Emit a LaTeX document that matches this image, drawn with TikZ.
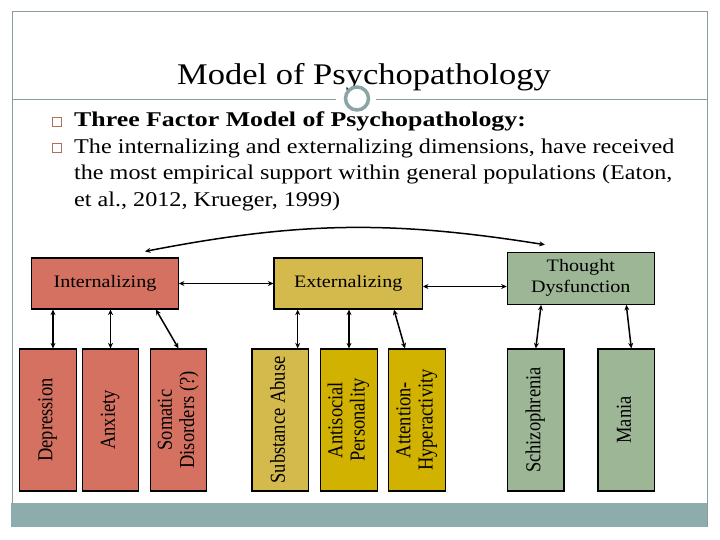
\documentclass[tikz,border=0pt]{standalone}
\usepackage{fontspec}
\setmainfont{Liberation Serif}[FakeStretch=1.15]
\newfontfamily\rotfont{Liberation Serif}
\usetikzlibrary{arrows.meta,calc}
\definecolor{intred}{RGB}{213,113,96}
\definecolor{extyel}{RGB}{212,186,76}
\definecolor{extdark}{RGB}{209,178,0}
\definecolor{thgreen}{RGB}{157,182,150}
\definecolor{tealbar}{RGB}{141,173,173}
\definecolor{framegray}{RGB}{140,156,156}
\definecolor{ringgray}{RGB}{138,165,165}
\definecolor{bulletc}{RGB}{184,110,86}
\newcommand{\rlab}[1]{\rotatebox{90}{\scalebox{1}[1.15]{\rotfont\fontsize{18.5}{19.5}\selectfont\begin{tabular}{@{}c@{}}#1\end{tabular}}}}
\tikzset{
  catbox/.style={draw=black, line width=1.2pt, inner sep=0pt, minimum height=51pt,
    font=\fontsize{17.5}{21}\selectfont, align=center},
  childbox/.style={draw=black, line width=1.2pt, inner sep=0pt, minimum width=56.5pt,
    minimum height=142pt},
  arr/.style={{Stealth[length=5.5pt,width=5pt]}-{Stealth[length=5.5pt,width=5pt]}, line width=1.5pt},
  bul/.style={draw=bulletc, line width=1pt, minimum width=8.5pt, minimum height=9pt, inner sep=0pt},
  txt/.style={anchor=base west, inner sep=0pt, font=\fontsize{21}{26}\selectfont}
}
\begin{document}
\begin{tikzpicture}[x=1pt,y=-1pt]
\useasboundingbox (0,0) rectangle (720,540);
% frame
\fill[tealbar] (11,503) rectangle (707,527);
\draw[framegray, line width=1pt] (12,503) -- (12,12) -- (707,12) -- (707,527);
% title
\node[anchor=base, inner sep=0pt, font=\fontsize{30}{36}\selectfont] (title) at (364,85) {Model of Psychopathology};
\draw[framegray, line width=1pt] (12,100) -- (336,100);
\draw[framegray, line width=1pt] (376,100) -- (707,100);
\draw[ringgray, line width=3.5pt] (357,98.5) circle (11.5);
% bullets
\node[bul] (b1) at (57,122) {};
\node[bul] (b2) at (57,148) {};
\node[txt] (t1) at (74,127) {\scalebox{1.07}[1]{\bfseries Three Factor Model of Psychopathology:}};
\node[txt] (t2) at (74,153.5) {The internalizing and externalizing dimensions, have received};
\node[txt] (t3) at (74,180) {the most empirical support within general populations (Eaton,};
\node[txt] (t4) at (74,206.5) {et al., 2012, Krueger, 1999)};
% category boxes
\node[catbox, fill=intred, minimum width=146.6pt] (int) at (105,283.5) {Internalizing};
\node[catbox, fill=extyel, minimum width=148.3pt] (ext) at (348.2,283.5) {Externalizing};
\node[catbox, fill=thgreen, minimum width=147pt, minimum height=52pt] (tho) at (580.8,278.3) {Thought\\Dysfunction};
% child boxes
\node[childbox, fill=intred] (dep) at (48,420) {\rlab{Depression}};
\node[childbox, fill=intred] (anx) at (110.5,420) {\rlab{Anxiety}};
\node[childbox, fill=intred] (som) at (178.5,420) {\rlab{Somatic\\Disorders (?)}};
\node[childbox, fill=extyel] (sub) at (280.3,420) {\rlab{Substance Abuse}};
\node[childbox, fill=extdark] (ant) at (349,420) {\rlab{Antisocial\\Personality}};
\node[childbox, fill=extdark] (att) at (417,420) {\rlab{Attention-\\Hyperactivity}};
\node[childbox, fill=thgreen] (sch) at (535.8,420) {\rlab{Schizophrenia}};
\node[childbox, fill=thgreen] (man) at (626.3,420) {\rlab{Mania}};
% connectors
\draw[arr] (int.east) -- (ext.west);
\draw[arr] ([yshift=-3pt]ext.east) -- ([yshift=-3pt]ext.east -| tho.west);
\draw[arr] ([shift={(40pt,6pt)}]int.north) to[bend left=10] ([shift={(-36pt,7pt)}]tho.north);
\draw[arr] ([xshift=5pt]dep.north |- int.south) -- ([xshift=5pt]dep.north);
\draw[arr] (anx.north |- int.south) -- (anx.north);
\draw[arr] ([xshift=-23pt]int.south east) -- (som.north);
\draw[arr] ([xshift=17.4pt]sub.north |- ext.south) -- ([xshift=17.4pt]sub.north);
\draw[arr] (ant.north |- ext.south) -- (ant.north);
\draw[arr] ([xshift=-29pt]ext.south east) -- ([xshift=-12pt]att.north);
\draw[arr] ([xshift=34.4pt]tho.south west) -- (sch.north);
\draw[arr] ([xshift=-28.6pt]tho.south east) -- ([xshift=5pt]man.north);
\end{tikzpicture}
\end{document}
